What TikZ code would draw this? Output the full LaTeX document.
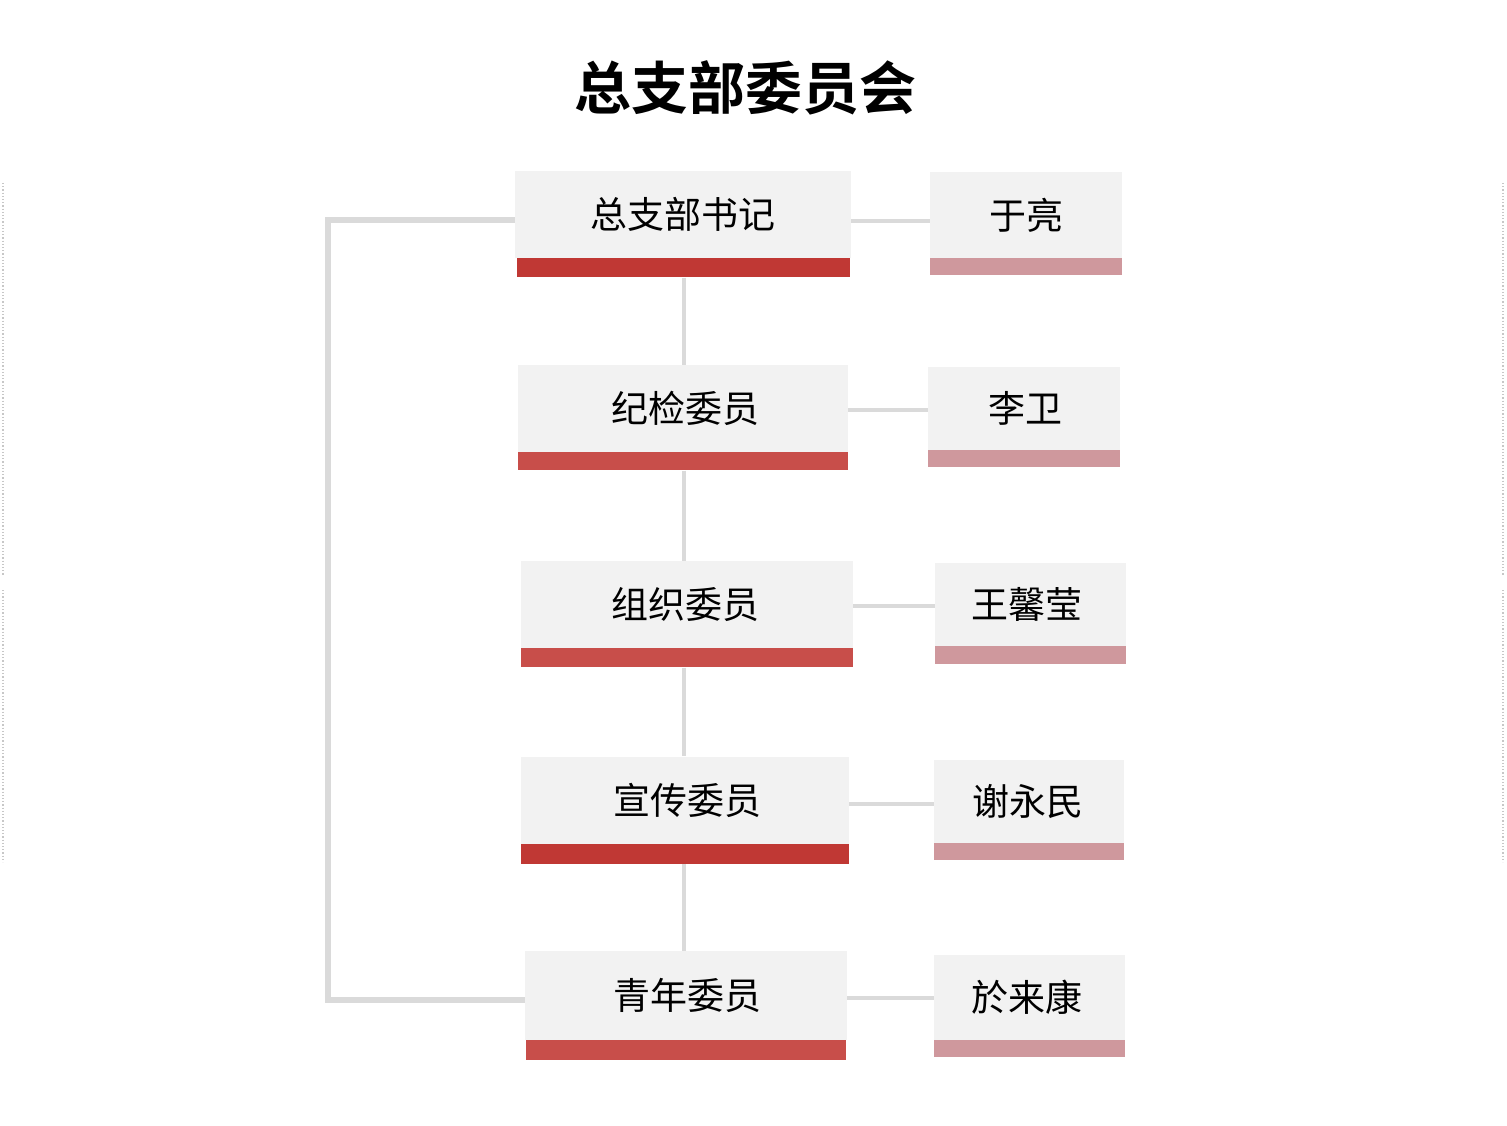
\documentclass[tikz,border=0pt]{standalone}
\usepackage{fontspec}
\setmainfont{Noto Sans CJK SC}[BoldFont={Noto Sans CJK SC Bold}]
\definecolor{boxgray}{RGB}{242,242,242}
\definecolor{linegray}{RGB}{218,218,218}
\definecolor{reddark}{RGB}{192,56,52}
\definecolor{redlight}{RGB}{200,78,74}
\definecolor{pinkbar}{RGB}{207,152,157}
\tikzset{
  x=1pt, y=-1pt,
  leftbox/.style={draw=none, fill=boxgray, inner sep=0pt, minimum width=#1, minimum height=87pt,
    font=\fontsize{37}{37}\selectfont},
  rightbox/.style={draw=none, fill=boxgray, inner sep=0pt, minimum width=#1, minimum height=85pt,
    font=\fontsize{37}{37}\selectfont},
  barbox/.style={draw=none, fill=#1, inner sep=0pt, anchor=north},
  conn/.style={draw=linegray, line width=4.5pt},
  bracket/.style={draw=linegray, line width=6pt},
  edgedots/.style={draw=black!22, line width=1.2pt, dotted}
}
\begin{document}
\begin{tikzpicture}
\useasboundingbox (0,0) rectangle (1507,1126);
\fill[white] (0,0) rectangle (1507,1126);

\node[font=\fontsize{57}{57}\selectfont\bfseries] (title) at (745,88) {总支部委员会};

% left column
\node[leftbox=336pt] (b1) at (683,214.5) {总支部书记};
\node[barbox=reddark, minimum width=333pt, minimum height=19pt] (b1bar) at (b1.south) {};
\node[leftbox=330pt] (b2) at (683,408.5) {\hspace*{4pt}纪检委员};
\node[barbox=redlight, minimum width=330pt, minimum height=18pt] (b2bar) at (b2.south) {};
\node[leftbox=332pt] (b3) at (687,604.5) {\hspace*{-4pt}组织委员};
\node[barbox=redlight, minimum width=332pt, minimum height=19pt] (b3bar) at (b3.south) {};
\node[leftbox=328pt] (b4) at (685,800) {\hspace*{4pt}宣传委员};
\node[barbox=reddark, minimum width=328pt, minimum height=20pt] (b4bar) at (b4.south) {};
\node[leftbox=322pt, minimum height=89pt] (b5) at (686,995.5) {\hspace*{2pt}青年委员};
\node[barbox=redlight, minimum width=320pt, minimum height=20pt] (b5bar) at (b5.south) {};

% right column
\node[rightbox=192pt, minimum height=86pt] (r1) at (1026,215) {于亮};
\node[barbox=pinkbar, minimum width=192pt, minimum height=17pt] (r1bar) at (r1.south) {};
\node[rightbox=192pt, minimum height=83pt] (r2) at (1024,408.5) {\hspace*{2pt}李卫};
\node[barbox=pinkbar, minimum width=192pt, minimum height=17pt] (r2bar) at (r2.south) {};
\node[rightbox=191pt, minimum height=83pt] (r3) at (1030.5,604.5) {\hspace*{-7pt}王馨莹};
\node[barbox=pinkbar, minimum width=191pt, minimum height=18pt] (r3bar) at (r3.south) {};
\node[rightbox=190pt, minimum height=83pt] (r4) at (1029,801.5) {\hspace*{-3pt}谢永民};
\node[barbox=pinkbar, minimum width=190pt, minimum height=17pt] (r4bar) at (r4.south) {};
\node[rightbox=191pt, minimum height=85pt] (r5) at (1029.5,997.5) {\hspace*{-6pt}於来康};
\node[barbox=pinkbar, minimum width=191pt, minimum height=17pt] (r5bar) at (r5.south) {};

% spine
\coordinate (spine) at (684,0);
\draw[conn] (b1bar.south -| spine) -- (b2.north -| spine);
\draw[conn] (b2bar.south -| spine) -- (b3.north -| spine);
\draw[conn] (b3bar.south -| spine) -- (b4.north -| spine);
\draw[conn] (b4bar.south -| spine) -- (b5.north -| spine);

% right connectors
\draw[conn] (b1.east |- 0,221) -- (r1.west |- 0,221);
\draw[conn] (b2.east |- 0,410) -- (r2.west |- 0,410);
\draw[conn] (b3.east |- 0,606) -- (r3.west |- 0,606);
\draw[conn] (b4.east |- 0,804) -- (r4.west |- 0,804);
\draw[conn] (b5.east |- 0,998) -- (r5.west |- 0,998);

% left bracket
\coordinate (bk) at (328,0);
\draw[bracket] (b1.west |- 0,220) -- (bk |- 0,220) -- (bk |- 0,1000) -- (b5.west |- 0,1000);

% faint edge dots
\draw[edgedots] (3,183) -- (3,575);
\draw[edgedots] (3,590) -- (3,862);
\draw[edgedots] (1503,183) -- (1503,575);
\draw[edgedots] (1503,590) -- (1503,862);
\end{tikzpicture}
\end{document}
